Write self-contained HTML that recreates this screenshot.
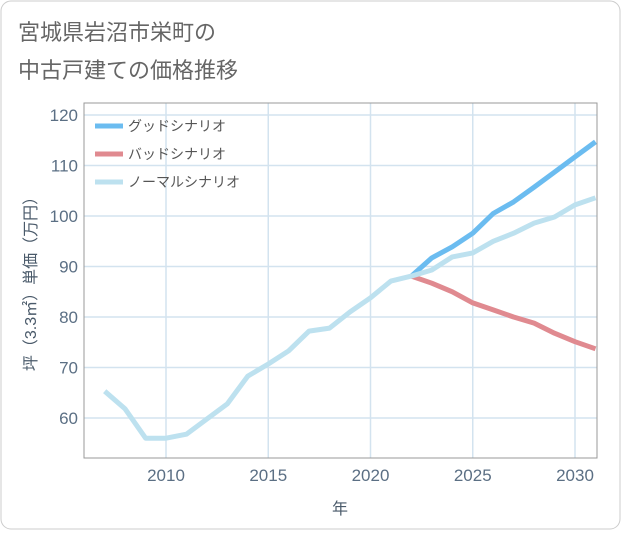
<!DOCTYPE html>
<html><head><meta charset="utf-8"><style>
body{margin:0;background:#fff;font-family:"Liberation Sans","Noto Sans CJK JP",sans-serif;}
#wrap{position:relative;width:621px;height:530px;}
</style></head><body>
<div id="wrap">
<svg id="svg" width="621" height="530" xmlns="http://www.w3.org/2000/svg">
<rect x="1" y="1" width="619" height="528" rx="10" fill="#fff" stroke="#ccc"/>
<text x="18" y="40" font-size="22" fill="#666">宮城県岩沼市栄町の</text>
<text x="18" y="78" font-size="22" fill="#666">中古戸建ての価格推移</text>
<g id="grid"></g><g id="lines"></g><g id="axes"></g>
<text transform="translate(36,280) rotate(-90)" text-anchor="middle" font-size="16" fill="#4a5a6a">坪（3.3㎡）単価（万円）</text>
<text x="340" y="514" text-anchor="middle" font-size="16" fill="#4a5a6a">年</text>
<g>
<line x1="95" y1="126" x2="123" y2="126" stroke="#6bbcf0" stroke-width="5"/>
<text x="128" y="131" font-size="14" fill="#555">グッドシナリオ</text>
<line x1="95" y1="154" x2="123" y2="154" stroke="#e08a90" stroke-width="5"/>
<text x="128" y="159" font-size="14" fill="#555">バッドシナリオ</text>
<line x1="95" y1="182" x2="123" y2="182" stroke="#bde1ef" stroke-width="5"/>
<text x="128" y="187" font-size="14" fill="#555">ノーマルシナリオ</text>
</g>
</svg></div>
<script>
const years=[2007,2008,2009,2010,2011,2012,2013,2014,2015,2016,2017,2018,2019,2020,2021,2022,2023,2024,2025,2026,2027,2028,2029,2030,2031];
const normal=[65.3,61.8,56,56,56.8,59.8,62.8,68.3,70.7,73.3,77.2,77.8,81,83.8,87.1,88.1,89.3,91.9,92.7,95,96.6,98.6,99.8,102.2,103.6];
const goodYears=[2022,2023,2024,2025,2026,2027,2028,2029,2030,2031];
const good=[88.1,91.7,93.9,96.6,100.5,102.8,105.7,108.7,111.7,114.7];
const bad=[88.1,86.7,85,82.8,81.4,80,78.8,76.8,75.1,73.7];
const xTicks=[2010,2015,2020,2025,2030];
const yTicks=[60,70,80,90,100,110,120];
const L=84,R=597,T=103,B=458;
const xs=y=>166+(y-2010)*20.45;
const ys=v=>418-(v-60)*5.05;
const NS="http://www.w3.org/2000/svg";
function mk(tag,attrs,parent){const e=document.createElementNS(NS,tag);for(const k in attrs)e.setAttribute(k,attrs[k]);document.getElementById(parent).appendChild(e);return e;}
const frame=mk('rect',{x:L,y:T,width:R-L,height:B-T,fill:'none',stroke:'#999','stroke-width':1},'axes');


xTicks.forEach(t=>{
  const g=mk('line',{x1:xs(t),x2:xs(t),y1:T,y2:B,stroke:'#d3e3ef','stroke-width':1.5},'grid');
  
  
  const tx=mk('text',{x:xs(t),y:B+23,'text-anchor':'middle','font-size':17,fill:'#5b6f84'},'axes');
  tx.textContent=t;
  
  
});
yTicks.forEach(t=>{
  const g=mk('line',{x1:L,x2:R,y1:ys(t),y2:ys(t),stroke:'#d3e3ef','stroke-width':1.5},'grid');
  
  
  const tx=mk('text',{x:L-6,y:ys(t)+6,'text-anchor':'end','font-size':17,fill:'#5b6f84'},'axes');
  tx.textContent=t;
  
  
});
function line(xv,yv,color,name){
  const d=xv.map((x,i)=>(i?'L':'M')+xs(x).toFixed(1)+','+ys(yv[i]).toFixed(1)).join(' ');
  const p=mk('path',{d:d,fill:'none',stroke:color,'stroke-width':5,'stroke-linejoin':'round'},'lines');
  
  
}
line(goodYears,good,'#6bbcf0','good-scenario-line');
line(goodYears,bad,'#e08a90','bad-scenario-line');
line(years,normal,'#bde1ef','normal-scenario-line');
</script>
</body></html>
